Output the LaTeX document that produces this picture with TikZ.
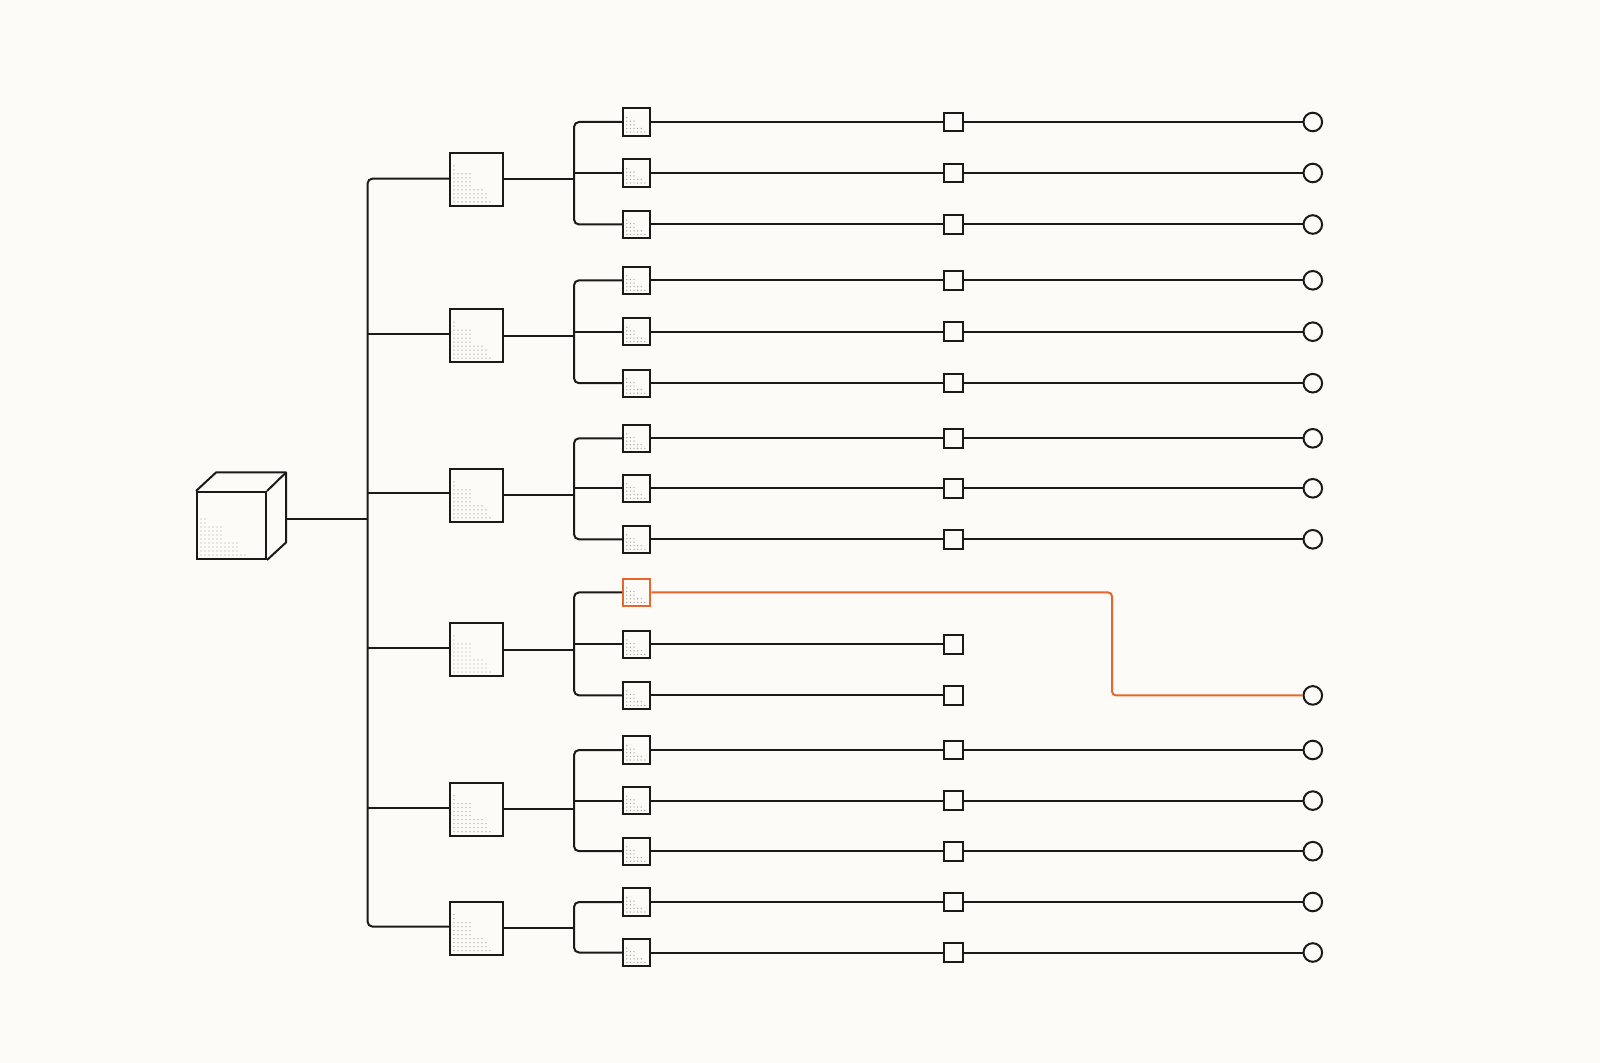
\documentclass[tikz,border=0pt]{standalone}
\usepackage{tikz,xcolor}

\definecolor{paperbg}{HTML}{FCFBF8}
\definecolor{dotgray}{HTML}{A8A8A4}
\definecolor{wireorange}{HTML}{E8652B}
\definecolor{wireblack}{HTML}{1A1A1A}

\newcommand{\stairdots}[4]{%
  \foreach \n [count=\r] in {#4}
    \foreach \k in {1,...,\n}
      \fill[dotgray] (\k*#1pt-#2pt,\r*#1pt-#3pt) circle (0.36pt);
}

\tikzset{
  wire/.style={draw=wireblack, line width=1pt},
  hotwire/.style={draw=wireorange, line width=1pt},
  midbox/.style={wire, rectangle, inner sep=0, minimum size=26.5pt, path picture={\stairdots{2}{13.25}{13.25}{10,9,9,8,5,5,5,5,1,1}}},
  leafbox/.style={wire, rectangle, inner sep=0, minimum size=13.6pt, path picture={\stairdots{1.8}{6.8}{6.8}{6,5,3,3,1}}},
  tinybox/.style={wire, rectangle, inner sep=0, minimum size=9.3pt},
  endcircle/.style={wire, circle, inner sep=0, minimum size=9.3pt},
}

\begin{document}
\begin{tikzpicture}[x=0.5pt, y=-0.5pt]

\fill[paperbg] (0,0) rectangle (1600,1063);
\useasboundingbox (0,0) rectangle (1600,1063);

% cube
\node[wire, rectangle, inner sep=0, minimum width=34.5pt, minimum height=33.5pt, path picture={\stairdots{2}{17.25}{16.75}{12,10,10,10,6,6,6,6,2,2}}] (cube) at (231.5,525.5) {};
\coordinate (backleft) at (216,472.5);
\coordinate (backright) at (286,472.5);
\coordinate (backlow) at (286,542.5);
\coordinate (cubeout) at (286,519.5);
\draw[wire, line join=round] (cube.north west) -- (backleft) -- (backright) -- (backlow) -- (cube.south east);
\draw[wire] (cube.north east) -- (backright);

% middle boxes
\node[midbox] (m1) at (476.5,179.3) {};
\node[midbox] (m2) at (476.5,335.7) {};
\node[midbox] (m3) at (476.5,495.3) {};
\node[midbox] (m4) at (476.5,649.5) {};
\node[midbox] (m5) at (476.5,809.2) {};
\node[midbox] (m6) at (476.5,928.2) {};

% leaf boxes
\node[leafbox] (s1) at (636.8,122) {};
\node[leafbox] (s2) at (636.8,173) {};
\node[leafbox] (s3) at (636.8,224.5) {};
\node[leafbox] (s4) at (636.8,280.3) {};
\node[leafbox] (s5) at (636.8,331.7) {};
\node[leafbox] (s6) at (636.8,383.2) {};
\node[leafbox] (s7) at (636.8,438.3) {};
\node[leafbox] (s8) at (636.8,488.3) {};
\node[leafbox] (s9) at (636.8,539.3) {};
\node[leafbox, draw=wireorange] (s10) at (636.8,592.4) {};
\node[leafbox] (s11) at (636.8,644.4) {};
\node[leafbox] (s12) at (636.8,695.4) {};
\node[leafbox] (s13) at (636.8,750) {};
\node[leafbox] (s14) at (636.8,800.6) {};
\node[leafbox] (s15) at (636.8,851.2) {};
\node[leafbox] (s16) at (636.8,902) {};
\node[leafbox] (s17) at (636.8,952.5) {};

% tiny boxes
\node[tinybox] (t1) at (953.4,122) {};
\node[tinybox] (t2) at (953.4,173) {};
\node[tinybox] (t3) at (953.4,224.5) {};
\node[tinybox] (t4) at (953.4,280.3) {};
\node[tinybox] (t5) at (953.4,331.7) {};
\node[tinybox] (t6) at (953.4,383.2) {};
\node[tinybox] (t7) at (953.4,438.3) {};
\node[tinybox] (t8) at (953.4,488.3) {};
\node[tinybox] (t9) at (953.4,539.3) {};
\node[tinybox] (t11) at (953.4,644.4) {};
\node[tinybox] (t12) at (953.4,695.4) {};
\node[tinybox] (t13) at (953.4,750) {};
\node[tinybox] (t14) at (953.4,800.6) {};
\node[tinybox] (t15) at (953.4,851.2) {};
\node[tinybox] (t16) at (953.4,902) {};
\node[tinybox] (t17) at (953.4,952.5) {};

% end circles
\node[endcircle] (c1) at (1312.8,122) {};
\node[endcircle] (c2) at (1312.8,173) {};
\node[endcircle] (c3) at (1312.8,224.5) {};
\node[endcircle] (c4) at (1312.8,280.3) {};
\node[endcircle] (c5) at (1312.8,331.7) {};
\node[endcircle] (c6) at (1312.8,383.2) {};
\node[endcircle] (c7) at (1312.8,438.3) {};
\node[endcircle] (c8) at (1312.8,488.3) {};
\node[endcircle] (c9) at (1312.8,539.3) {};
\node[endcircle] (c12) at (1312.8,695.4) {};
\node[endcircle] (c13) at (1312.8,750) {};
\node[endcircle] (c14) at (1312.8,800.6) {};
\node[endcircle] (c15) at (1312.8,851.2) {};
\node[endcircle] (c16) at (1312.8,902) {};
\node[endcircle] (c17) at (1312.8,952.5) {};

% trunk
\coordinate (k1) at (367.5,178.6);
\coordinate (k2) at (367.5,334.2);
\coordinate (k3) at (367.5,493.4);
\coordinate (k4) at (367.5,647.5);
\coordinate (k5) at (367.5,807.7);
\coordinate (k6) at (367.5,926.6);
\draw[wire] (cubeout) -- (cubeout -| k1);
\draw[wire, rounded corners=2.5pt] (k1 -| m1.west) -- (k1) -- (k6) -- (k6 -| m6.west);
\draw[wire] (k2) -- (k2 -| m2.west);
\draw[wire] (k3) -- (k3 -| m3.west);
\draw[wire] (k4) -- (k4 -| m4.west);
\draw[wire] (k5) -- (k5 -| m5.west);

% branches
\coordinate (b1) at (574,179.3);
\coordinate (b2) at (574,335.7);
\coordinate (b3) at (574,495.3);
\coordinate (b4) at (574,649.5);
\coordinate (b5) at (574,809.2);
\coordinate (b6) at (574,928.2);
\draw[wire] (m1.east) -- (b1);
\draw[wire] (m2.east) -- (b2);
\draw[wire] (m3.east) -- (b3);
\draw[wire] (m4.east) -- (b4);
\draw[wire] (m5.east) -- (b5);
\draw[wire] (m6.east) -- (b6);
\draw[wire, rounded corners=2.5pt] (s1.west) -| (b1) |- (s3.west);
\draw[wire, rounded corners=2.5pt] (s4.west) -| (b2) |- (s6.west);
\draw[wire, rounded corners=2.5pt] (s7.west) -| (b3) |- (s9.west);
\draw[wire, rounded corners=2.5pt] (s10.west) -| (b4) |- (s12.west);
\draw[wire, rounded corners=2.5pt] (s13.west) -| (b5) |- (s15.west);
\draw[wire, rounded corners=2.5pt] (s16.west) -| (b6) |- (s17.west);
\draw[wire] (s2.west -| b1) -- (s2.west);
\draw[wire] (s5.west -| b2) -- (s5.west);
\draw[wire] (s8.west -| b3) -- (s8.west);
\draw[wire] (s11.west -| b4) -- (s11.west);
\draw[wire] (s14.west -| b5) -- (s14.west);

% rows
\draw[wire] (s1) -- (t1) -- (c1);
\draw[wire] (s2) -- (t2) -- (c2);
\draw[wire] (s3) -- (t3) -- (c3);
\draw[wire] (s4) -- (t4) -- (c4);
\draw[wire] (s5) -- (t5) -- (c5);
\draw[wire] (s6) -- (t6) -- (c6);
\draw[wire] (s7) -- (t7) -- (c7);
\draw[wire] (s8) -- (t8) -- (c8);
\draw[wire] (s9) -- (t9) -- (c9);
\draw[wire] (s11) -- (t11);
\draw[wire] (s12) -- (t12);
\draw[wire] (s13) -- (t13) -- (c13);
\draw[wire] (s14) -- (t14) -- (c14);
\draw[wire] (s15) -- (t15) -- (c15);
\draw[wire] (s16) -- (t16) -- (c16);
\draw[wire] (s17) -- (t17) -- (c17);

% orange route
\coordinate (bend) at (1112,640);
\draw[hotwire, rounded corners=2pt] (s10.east) -| (bend) |- (c12.west);

\end{tikzpicture}
\end{document}
